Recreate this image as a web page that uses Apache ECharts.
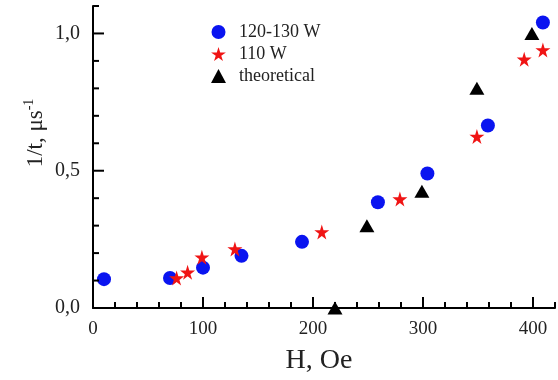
<!DOCTYPE html>
<html><head><meta charset="utf-8">
<script src="https://cdn.jsdelivr.net/npm/echarts@6/dist/echarts.min.js"></script>
<style>html,body{margin:0;padding:0;background:#fff}#c{width:558px;height:380px}</style>
</head><body><div id="c"></div>
<script>
const seriesNames = ['120-130 W', '110 W', 'theoretical'];
const blueData = [[10,0.105],[70,0.109],[100,0.147],[135,0.19],[190,0.241],[259,0.385],[304,0.49],[359,0.665],[409,1.04]];
const redData = [[76,0.109],[86,0.13],[99,0.185],[129,0.215],[208,0.277],[279,0.397],[349,0.625],[392,0.906],[409,0.94]];
const theoData = [[220,0.0],[249,0.3],[299,0.425],[349,0.80],[399,1.0]];
const xRange = [0, 420];
const yRange = [0, 1.1];
const xTickValues = [0,20,40,60,80,100,120,140,160,180,200,220,240,260,280,300,320,340,360,380,400,420];
const yTickValues = [0,0.1,0.2,0.3,0.4,0.5,0.6,0.7,0.8,0.9,1.0,1.1];
const xMajorStep = 100, xMinorStep = 20;
const yMajorStep = 0.5, yMinorStep = 0.1;
const starPath = 'path://M50,0 L61,35 L98,35 L68,57 L79,91 L50,70 L21,91 L32,57 L2,35 L39,35 Z';
const font = '"Liberation Serif", "DejaVu Serif", serif';
const isMult = (v, s) => Math.abs(v / s - Math.round(v / s)) < 1e-6;

function xTickItem(params, api) {
  const v = api.value(0);
  const p = api.coord([v, yRange[0]]);
  const len = isMult(v, xMajorStep) ? 11 : 6;
  return {type: 'rect', shape: {x: p[0] - 1, y: p[1] - len, width: 2, height: len},
          style: {fill: '#000'}};
}
function yTickItem(params, api) {
  const v = api.value(1);
  const p = api.coord([xRange[0], v]);
  const len = isMult(v, yMajorStep) ? 11 : 6;
  return {type: 'rect', shape: {x: p[0], y: p[1] - 1, width: len, height: 2},
          style: {fill: '#000'}};
}

const chart = echarts.init(document.getElementById('c'));
chart.setOption({
  animation: false,
  grid: {left: 93, right: 1, top: 6, bottom: 68},
  legend: {
    orient: 'vertical', left: 206, top: 18, itemGap: 4, itemWidth: 15, itemHeight: 14,
    textStyle: {fontFamily: font, fontSize: 18, color: '#222', padding: [0, 0, 0, 8]},
    data: [
      {name: seriesNames[0], icon: 'circle'},
      {name: seriesNames[1], icon: starPath},
      {name: seriesNames[2], icon: 'triangle'}
    ]
  },
  xAxis: [{
    type: 'value', min: xRange[0], max: xRange[1], interval: xMinorStep,
    axisLine: {show: true, lineStyle: {color: '#000', width: 2}},
    axisTick: {show: false},
    axisLabel: {fontFamily: font, fontSize: 19, color: '#222', margin: 12,
      formatter: v => isMult(v, xMajorStep) ? String(v) : ''},
    splitLine: {show: false},
    name: 'H, Oe', nameLocation: 'middle', nameGap: 39,
    nameTextStyle: {fontFamily: font, fontSize: 28, color: '#222', padding: [0, 0, 0, -10]}
  }],
  yAxis: [{
    type: 'value', min: yRange[0], max: yRange[1], interval: yMinorStep,
    axisLine: {show: true, lineStyle: {color: '#000', width: 2}},
    axisTick: {show: false},
    axisLabel: {fontFamily: font, fontSize: 20, color: '#222', margin: 13,
      formatter: v => isMult(v, yMajorStep) ? v.toFixed(1).replace('.', ',') : ''},
    splitLine: {show: false}
  }],
  graphic: [{
    type: 'text', x: 36, y: 133, rotation: Math.PI / 2,
    style: {
      text: '{a|1/t, μs}{s|-1}', align: 'center', verticalAlign: 'middle',
      rich: {
        a: {fontFamily: font, fontSize: 23, fill: '#222'},
        s: {fontFamily: font, fontSize: 14, fill: '#222', verticalAlign: 'top', padding: [0, 0, 14, 0]}
      }
    }
  }],
  series: [
    {type: 'custom', silent: true, clip: false, z: 3, renderItem: xTickItem,
     encode: {x: 0, y: 1}, data: xTickValues.map(v => [v, yRange[0]])},
    {type: 'custom', silent: true, clip: false, z: 3, renderItem: yTickItem,
     encode: {x: 0, y: 1}, data: yTickValues.map(v => [xRange[0], v])},
    {name: seriesNames[0], type: 'scatter', data: blueData, symbol: 'circle', symbolSize: 14,
     itemStyle: {color: '#0a14f0', opacity: 1}},
    {name: seriesNames[1], type: 'scatter', data: redData, symbol: starPath, symbolSize: 15,
     itemStyle: {color: '#f01414', opacity: 1}},
    {name: seriesNames[2], type: 'scatter', data: theoData, symbol: 'triangle', symbolSize: [15, 13],
     itemStyle: {color: '#000', opacity: 1}}
  ]
});
</script></body></html>
